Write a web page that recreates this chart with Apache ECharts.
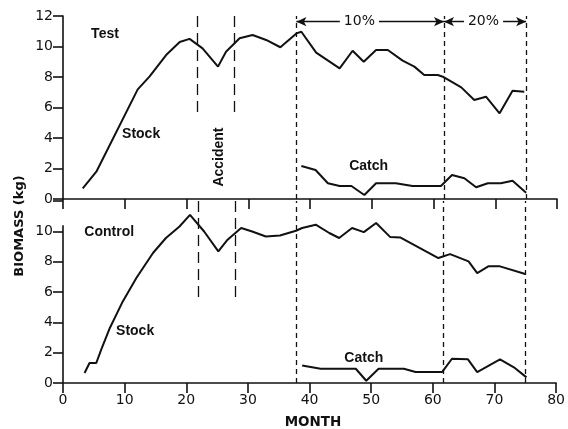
<!DOCTYPE html>
<html>
<head>
<meta charset="utf-8">
<script src="https://cdn.jsdelivr.net/npm/echarts@6/dist/echarts.min.js"></script>
<style>
  html, body { margin: 0; padding: 0; background: #fff; }
  #chart { width: 568px; height: 429px; }
</style>
</head>
<body>
<div id="chart"></div>
<script>
// Test tank: stock biomass (kg) by month
const testStockMonths = [3.2, 5.4, 12.1, 14.0, 16.7, 18.9, 20.5, 22.6, 25.1, 26.4, 28.6, 30.7, 32.9, 35.2, 37.8, 38.6, 41.0, 44.8, 46.9, 48.7, 50.7, 52.6, 55.0, 56.9, 58.5, 60.7, 61.5, 64.5, 66.6, 68.5, 70.7, 72.8, 74.7];
const testStockKg     = [0.70, 1.79, 7.19, 8.02, 9.44, 10.3, 10.5, 9.88, 8.68, 9.66, 10.54, 10.75, 10.43, 9.95, 10.86, 10.97, 9.6, 8.57, 9.72, 9.0, 9.77, 9.77, 9.07, 8.68, 8.13, 8.13, 8.02, 7.32, 6.49, 6.71, 5.62, 7.1, 7.04];

// Test tank: catch (kg) by month
const testCatchMonths = [38.6, 40.9, 42.9, 44.8, 46.7, 48.8, 50.7, 53.9, 56.6, 61.2, 63.0, 65.0, 66.9, 68.8, 70.9, 72.8, 75.0];
const testCatchKg     = [2.16, 1.9, 1.03, 0.85, 0.85, 0.26, 1.03, 1.03, 0.85, 0.85, 1.57, 1.36, 0.77, 1.03, 1.03, 1.2, 0.41];

// Control tank: stock biomass (kg) by month
const controlStockMonths = [3.5, 4.3, 5.4, 6.2, 7.6, 9.7, 11.9, 14.6, 16.7, 18.9, 20.6, 22.9, 25.2, 26.7, 28.9, 30.7, 32.9, 35.2, 37.8, 38.8, 41.0, 43.2, 44.8, 46.9, 48.8, 50.8, 53.1, 54.7, 60.9, 62.8, 65.8, 67.2, 69.0, 70.9, 75.0];
const controlStockKg     = [0.66, 1.32, 1.32, 2.2, 3.63, 5.38, 6.92, 8.57, 9.56, 10.32, 11.09, 9.99, 8.68, 9.45, 10.22, 9.99, 9.66, 9.73, 10.04, 10.22, 10.44, 9.89, 9.56, 10.22, 9.95, 10.55, 9.62, 9.6, 8.24, 8.5, 8.02, 7.25, 7.69, 7.69, 7.19];

// Control tank: catch (kg) by month
const controlCatchMonths = [38.8, 41.8, 47.5, 49.2, 51.2, 55.3, 57.2, 61.5, 63.1, 65.7, 67.2, 70.9, 73.3, 75.2];
const controlCatchKg     = [1.16, 0.94, 0.94, 0.15, 0.94, 0.94, 0.72, 0.72, 1.6, 1.56, 0.72, 1.56, 0.99, 0.37];

// Months of the accident and of the harvest-rate changes
const accidentMonthsTest = [21.8, 27.8];
const accidentMonthsControl = [21.9, 28.0];
const harvestMonths = [37.8, 61.7, 75.0];
const harvestRates = ['10%', '20%'];

// Axis tick labels shown on each panel's kg axis
const kgTicks = [0, 2, 4, 6, 8, 10, 12];
const kgTicksControl = [0, 2, 4, 6, 8, 10];

const zip = (xs, ys) => xs.map((x, i) => [x, ys[i]]);

const INK = '#111';
const TICK_FONT = 'DejaVu Sans';
const TEXT_FONT = 'Liberation Sans';

const chart = echarts.init(document.getElementById('chart'), null, { renderer: 'canvas' });

function xAxisFor(gridIndex, showLabels) {
  return {
    type: 'value', gridIndex, min: 0, max: 80, interval: 10,
    axisLine: { show: true, lineStyle: { color: INK, width: 1.6 } },
    axisTick: { show: true, length: 10, lineStyle: { color: INK, width: 1.6 } },
    axisLabel: { show: showLabels, color: INK, fontFamily: TICK_FONT, fontSize: 14, margin: 10 },
    splitLine: { show: false }
  };
}

function yAxisFor(gridIndex, ticks, showLine) {
  return {
    type: 'value', gridIndex, min: 0, max: 12, interval: 2,
    axisLine: { show: showLine, lineStyle: { color: INK, width: 1.6 } },
    axisTick: { show: true, length: 10, lineStyle: { color: INK, width: 1.6 } },
    axisLabel: { show: true, color: INK, fontFamily: TICK_FONT, fontSize: 14, margin: 10,
      formatter: v => (ticks.indexOf(v) >= 0 ? String(v) : '') },
    splitLine: { show: false }
  };
}

const dashedHarvest = { color: INK, width: 1.3, type: [5, 4] };
const dashedAccident = { color: INK, width: 1.3, type: [11, 6] };

function vLines(months, y0, y1, style) {
  return months.map(m => [
    { coord: [m, y0], lineStyle: style },
    { coord: [m, y1] }
  ]);
}

const lineSeries = (name, xi, data, extra) => Object.assign({
  name, type: 'line', xAxisIndex: xi, yAxisIndex: xi, data,
  symbol: 'none', smooth: false, clip: false,
  lineStyle: { color: INK, width: 2 }, itemStyle: { color: INK },
  animation: false, silent: true
}, extra || {});

const arrowY = 11.63;

chart.setOption({
  animation: false,
  backgroundColor: '#fff',
  grid: [
    { left: 63, top: 16, width: 494, height: 183 },
    { left: 63, top: 201, width: 494, height: 182 }
  ],
  xAxis: [xAxisFor(0, false), xAxisFor(1, true)],
  yAxis: [yAxisFor(0, kgTicks, true), yAxisFor(1, kgTicksControl, false)],
  series: [
    lineSeries('Test stock', 0, zip(testStockMonths, testStockKg), {
      markLine: {
        silent: true, symbol: 'none', animation: false,
        label: { show: false },
        data: [
          ...vLines(accidentMonthsTest, 12, 5.5, dashedAccident),
          ...vLines(harvestMonths, 0, 12, dashedHarvest)
        ]
      }
    }),
    lineSeries('Test catch', 0, zip(testCatchMonths, testCatchKg), {
      markLine: {
        silent: true, animation: false,
        symbol: ['arrow', 'arrow'], symbolSize: [7, 10],
        label: { show: false },
        lineStyle: { color: INK, width: 1.3, type: 'solid' },
        data: [
          [{ coord: [harvestMonths[0], arrowY] }, { coord: [harvestMonths[1], arrowY] }],
          [{ coord: [harvestMonths[1], arrowY] }, { coord: [harvestMonths[2], arrowY] }]
        ]
      }
    }),
    lineSeries('Control stock', 1, zip(controlStockMonths, controlStockKg), {
      markLine: {
        silent: true, symbol: 'none', animation: false,
        label: { show: false },
        data: [
          // left axis line of the control panel stops just above 10 kg
          [{ coord: [0, 0], lineStyle: { color: INK, width: 1.6, type: 'solid' } }, { coord: [0, 10.4] }],
          ...vLines(accidentMonthsControl, 12, 5.5, dashedAccident),
          ...vLines(harvestMonths, 0, 12, dashedHarvest)
        ]
      }
    }),
    lineSeries('Control catch', 1, zip(controlCatchMonths, controlCatchKg))
  ]
});

// Text annotations placed in data coordinates: [grid, month, kg, text, rotation, size]
const notes = [
  [0, 6.8, 10.8, 'Test', 0, 14],
  [0, 12.65, 4.26, 'Stock', 0, 14],
  [0, 49.5, 2.16, 'Catch', 0, 14],
  [0, 25.35, 2.75, 'Accident', 90, 14],
  [1, 7.5, 9.97, 'Control', 0, 14],
  [1, 11.7, 3.45, 'Stock', 0, 14],
  [1, 48.8, 1.67, 'Catch', 0, 14]
];
const rateLabelMonths = [48.0, 68.1];

const graphics = notes.map(([g, m, v, t, rot, size]) => {
  const p = chart.convertToPixel({ gridIndex: g }, [m, v]);
  return {
    type: 'text', x: p[0], y: p[1], rotation: rot * Math.PI / 180, z: 100,
    style: { text: t, fill: INK, font: `bold ${size}px "${TEXT_FONT}"`, align: 'center', verticalAlign: 'middle' }
  };
});

harvestRates.forEach((t, i) => {
  const p = chart.convertToPixel({ gridIndex: 0 }, [rateLabelMonths[i], arrowY]);
  graphics.push({
    type: 'text', x: p[0], y: p[1], z: 100,
    style: { text: t, fill: INK, font: `14px "${TICK_FONT}"`, align: 'center', verticalAlign: 'middle',
      backgroundColor: '#fff', padding: [0, 4] }
  });
});

graphics.push({
  type: 'text', x: 20, y: 226, rotation: Math.PI / 2, z: 100,
  style: { text: 'BIOMASS (kg)', fill: INK, font: `bold 13px "${TICK_FONT}"`, align: 'center', verticalAlign: 'middle' }
});
graphics.push({
  type: 'text', x: 313, y: 422, z: 100,
  style: { text: 'MONTH', fill: INK, font: `bold 13.5px "${TICK_FONT}"`, align: 'center', verticalAlign: 'middle' }
});

chart.setOption({ graphic: graphics });
</script>
</body>
</html>
